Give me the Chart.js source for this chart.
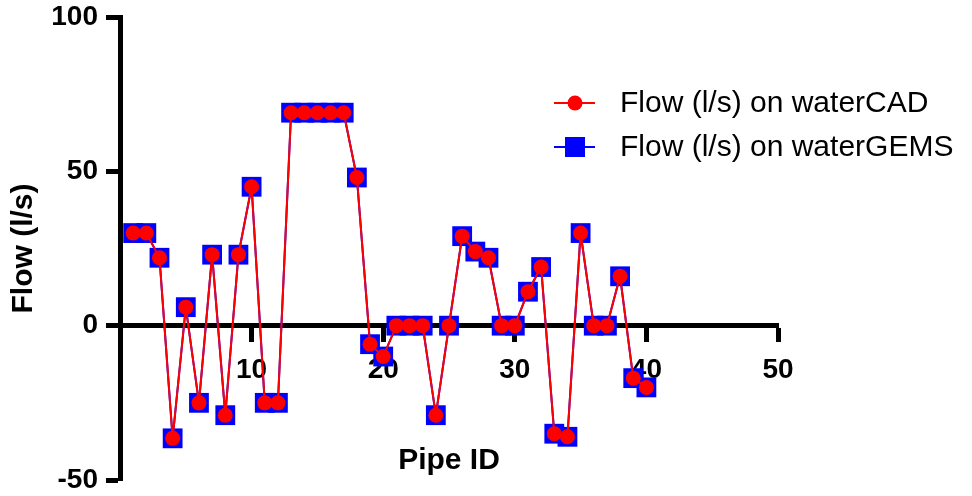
<!DOCTYPE html>
<html>
<head>
<meta charset="utf-8">
<script src="https://cdn.jsdelivr.net/npm/chart.js@4.4.1/dist/chart.umd.min.js"></script>
<style>
  html, body { margin: 0; padding: 0; background: #fff; }
  #wrap { width: 972px; height: 496px; position: relative; }
</style>
</head>
<body>
<div id="wrap"><canvas id="flow-chart"></canvas></div>
<script>
var FONT = "'Liberation Sans', Arial, sans-serif"

var pipeIds = [1, 2, 3, 4, 5, 6, 7, 8, 9, 10,
  11, 12, 13, 14, 15, 16, 17, 18, 19, 20,
  21, 22, 23, 24, 25, 26, 27, 28, 29, 30,
  31, 32, 33, 34, 35, 36, 37, 38, 39, 40]

var flowWaterCAD = [30, 30, 22, -36.5, 6, -25, 23, -29, 23, 45,
  -25, -25, 69, 69, 69, 69, 69, 48, -6, -10,
  0, 0, 0, -29, 0, 29, 24, 22, 0, 0,
  11, 19, -35, -36, 30, 0, 0, 16, -17, -20]

var flowWaterGEMS = [30, 30, 22, -36.5, 6, -25, 23, -29, 23, 45,
  -25, -25, 69, 69, 69, 69, 69, 48, -6, -10,
  0, 0, 0, -29, 0, 29, 24, 22, 0, 0,
  11, 19, -35, -36, 30, 0, 0, 16, -17, -20]

var seriesNames = ['Flow (l/s) on waterCAD', 'Flow (l/s) on waterGEMS']
var xTitle = 'Pipe ID'
var yTitle = 'Flow (l/s)'

function toPoints (ys) {
  return pipeIds.map(function (x, i) { return { x: x, y: ys[i] } })
}

var tickFont = { family: FONT, size: 28, weight: 'bold' }

// titles + legend drawn by hand (legend needs line through marker)
var extras = {
  id: 'extras',
  afterDraw: function (chart) {
    var c = chart.ctx
    var area = chart.chartArea
    c.save()
    c.fillStyle = '#000'
    c.font = 'bold 30px ' + FONT
    c.textAlign = 'center'
    c.textBaseline = 'middle'
    c.fillText(xTitle, (area.left + area.right) / 2, 461)
    c.save()
    c.translate(24, (area.top + area.bottom) / 2)
    c.rotate(-Math.PI / 2)
    c.fillText(yTitle, 0, 0)
    c.restore()

    var rows = [
      { y: 103, color: '#ff0000', shape: 'circle' },
      { y: 147, color: '#0000ff', shape: 'square' }
    ]
    rows.forEach(function (r, i) {
      c.strokeStyle = r.color
      c.lineWidth = 2
      c.beginPath()
      c.moveTo(554, r.y)
      c.lineTo(595, r.y)
      c.stroke()
      c.fillStyle = r.color
      if (r.shape === 'circle') {
        c.beginPath()
        c.arc(575, r.y, 7.5, 0, Math.PI * 2)
        c.fill()
      } else {
        c.fillRect(565, r.y - 10, 20, 20)
      }
      c.fillStyle = '#000'
      c.font = '30px ' + FONT
      c.textAlign = 'left'
      c.fillText(seriesNames[i], 620, r.y + 1)
    })
    c.restore()
  }
}

var ctx = document.getElementById('flow-chart')

var flowChart = new Chart(ctx, {
  type: 'scatter',
  data: {
    datasets: [
      {
        label: seriesNames[0],
        data: toPoints(flowWaterCAD),
        showLine: true,
        borderColor: '#ff0000',
        backgroundColor: '#ff0000',
        borderWidth: 2,
        pointStyle: 'circle',
        pointRadius: 7.5,
        pointBorderWidth: 0,
        pointHoverRadius: 7.5,
        order: 1
      },
      {
        label: seriesNames[1],
        data: toPoints(flowWaterGEMS),
        showLine: true,
        borderColor: '#0000ff',
        backgroundColor: '#0000ff',
        borderWidth: 2,
        pointStyle: 'rect',
        pointRadius: 14,
        pointBorderWidth: 0,
        pointHoverRadius: 14,
        order: 2
      }
    ]
  },
  options: {
    responsive: true,
    maintainAspectRatio: false,
    animation: false,
    layout: { padding: { left: 0, top: 17, right: 194, bottom: 16 } },
    plugins: {
      legend: { display: false },
      tooltip: { enabled: false }
    },
    scales: {
      x: {
        type: 'linear',
        min: 0,
        max: 50,
        position: { y: 0 },
        grid: { drawOnChartArea: false, drawTicks: true, tickLength: 14, tickWidth: 5, tickColor: '#000' },
        border: { display: true, width: 5, color: '#000' },
        ticks: {
          stepSize: 10,
          padding: 14,
          color: '#000',
          font: tickFont,
          maxRotation: 0,
          callback: function (v) { return v === 0 ? '' : v }
        }
      },
      y: {
        min: -50,
        max: 100,
        afterFit: function (scale) {
          scale.width = 120
          scale.paddingTop = 0
          scale.paddingBottom = 0
        },
        grid: { drawOnChartArea: false, drawTicks: true, tickLength: 14, tickWidth: 5, tickColor: '#000' },
        border: { display: true, width: 5, color: '#000' },
        ticks: {
          stepSize: 50,
          padding: 8,
          color: '#000',
          font: tickFont
        }
      }
    }
  },
  plugins: [extras]
})
</script>
</body>
</html>
